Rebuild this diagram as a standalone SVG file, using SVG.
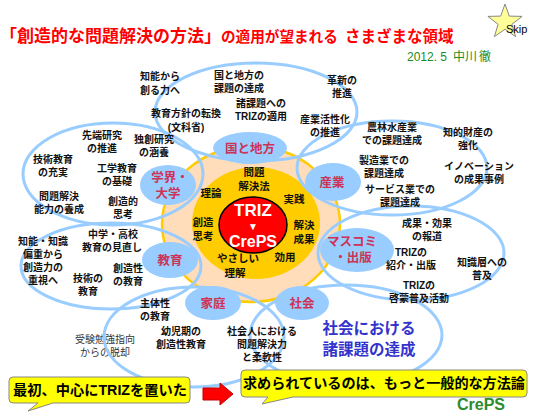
<svg xmlns="http://www.w3.org/2000/svg" width="543" height="418" viewBox="0 0 543 418">
<style>
.o{fill:none;stroke:#99CCFF;stroke-width:3}
.lb{fill:#99CCFF}
.jp{font-family:"Liberation Sans","Noto Sans CJK JP",sans-serif}
.lt{font-family:"Liberation Sans","Noto Sans CJK JP",sans-serif;font-size:12.5px;font-weight:bold;fill:#CC3355;text-anchor:middle}
.t{font-family:"Liberation Sans","Noto Sans CJK JP",sans-serif;font-size:10px;font-weight:bold;fill:#111;text-anchor:middle}
.c{font-family:"Liberation Sans","Noto Sans CJK JP",sans-serif;font-size:10.5px;font-weight:bold;fill:#111;text-anchor:middle}
.cb{font-family:"Liberation Sans","Noto Sans CJK JP",sans-serif;font-size:14px;font-weight:bold;fill:#000}
</style>
<rect width="543" height="418" fill="#FFFFFF"/>

<g id="title">
<text class="jp" y="42" font-weight="bold" fill="#FF0000"><tspan x="0" font-size="17">「創造的な問題解決の方法」</tspan><tspan font-size="14.6">の適用が望まれる</tspan><tspan x="345" font-size="15.5">さまざまな領域</tspan></text>
<text class="jp" y="61" font-size="12" fill="#228B22"><tspan x="407">2012. 5</tspan><tspan x="453">中川</tspan><tspan x="479">徹</tspan></text>
</g>

<g id="skip">
<polygon points="505,4 509.3,16.1 522.1,16.4 511.9,24.3 515.6,36.6 505,29.3 494.4,36.6 498.1,24.3 487.9,16.4 500.7,16.1" fill="#FFFF99" stroke="#888888" stroke-width="1"/>
<text x="506" y="33" font-family="Liberation Sans,Arial,sans-serif" font-size="11" fill="#000">Skip</text>
</g>

<g id="core">
<ellipse cx="251" cy="224" rx="89" ry="78" fill="#FFDDBB" stroke="#FFCC00" stroke-width="2.5"/>
<ellipse cx="256" cy="223" rx="64" ry="56" fill="#FFCC00"/>
</g>

<g id="c-text1"><text class="c"><tspan x="254" y="176">問題</tspan><tspan x="254" y="190">解決法</tspan></text></g>
<g id="c-text2"><text class="c" x="211" y="197">理論</text></g>
<g id="c-text3"><text class="c" x="294" y="203">実践</text></g>
<g id="c-text4"><text class="c"><tspan x="203" y="226">創造</tspan><tspan x="203" y="240">思考</tspan></text></g>
<g id="c-text5"><text class="c"><tspan x="304" y="229">解決</tspan><tspan x="304" y="243">成果</tspan></text></g>
<g id="c-text6"><text class="c"><tspan x="238" y="262">やさしい</tspan><tspan x="235" y="277">理解</tspan></text></g>
<g id="c-text7"><text class="c" x="285" y="261">効用</text></g>

<g id="triz">
<ellipse cx="253" cy="225" rx="34" ry="28" fill="#FF0000" stroke="#000" stroke-width="1.5"/>
<text x="253" y="216" font-family="Liberation Sans,Arial,sans-serif" font-size="17" font-weight="bold" fill="#FFF" text-anchor="middle">TRIZ</text>
<text x="253" y="229.5" font-family="Liberation Sans,Noto Sans CJK JP,sans-serif" font-size="10" fill="#FFF" text-anchor="middle">▼</text>
<text x="253" y="246.5" font-family="Liberation Sans,Arial,sans-serif" font-size="16" font-weight="bold" fill="#FFF" text-anchor="middle">CrePS</text>
</g>

<g id="t-juken"><text class="jp" font-size="10" fill="#333" text-anchor="middle"><tspan x="105" y="343">受験勉強指向</tspan><tspan x="105" y="356">からの脱却</tspan></text></g>

<g id="areas">
<ellipse class="o" cx="256" cy="112" rx="101" ry="49"/>
<ellipse class="o" cx="113" cy="174" rx="90" ry="51"/>
<ellipse class="o" cx="111" cy="266" rx="90" ry="43"/>
<ellipse class="o" cx="194" cy="337" rx="90" ry="50"/>
<ellipse class="o" cx="346" cy="335" rx="96" ry="50"/>
<ellipse class="o" cx="411" cy="253" rx="93" ry="47"/>
<ellipse class="o" cx="392" cy="168" rx="95" ry="47"/>
</g>

<g id="n-kuni"><ellipse class="lb" cx="250" cy="148" rx="37" ry="16"/><text class="lt" x="250" y="153">国と地方</text></g>
<g id="n-gakkai"><ellipse class="lb" cx="168" cy="185" rx="28" ry="20"/><text class="lt"><tspan x="170" y="182">学界・</tspan><tspan x="168" y="198">大学</tspan></text></g>
<g id="n-kyoiku"><ellipse class="lb" cx="170" cy="260" rx="28" ry="18"/><text class="lt" x="170" y="265">教育</text></g>
<g id="n-katei"><ellipse class="lb" cx="213" cy="303" rx="28" ry="17"/><text class="lt" x="213" y="308">家庭</text></g>
<g id="n-shakai"><ellipse class="lb" cx="302" cy="303" rx="27" ry="17"/><text class="lt" x="302" y="308">社会</text></g>
<g id="n-masukomi"><ellipse class="lb" cx="357" cy="250" rx="37" ry="22"/><text class="lt"><tspan x="352" y="246">マスコミ</tspan><tspan x="353" y="262">・出版</tspan></text></g>
<g id="n-sangyo"><ellipse class="lb" cx="333" cy="182" rx="28" ry="19"/><text class="lt" x="332" y="187">産業</text></g>

<g id="items">
<text class="t"><tspan x="160" y="80">知能から</tspan><tspan x="160" y="94">創る力へ</tspan></text>
<text class="t"><tspan x="239" y="79">国と地方の</tspan><tspan x="239" y="92">課題の達成</tspan></text>
<text class="t"><tspan x="261" y="107">諸課題への</tspan><tspan x="261" y="120">TRIZの適用</tspan></text>
<text class="t"><tspan x="342" y="84">革新の</tspan><tspan x="342" y="97">推進</tspan></text>
<text class="t"><tspan x="186" y="117">教育方針の転換</tspan><tspan x="186" y="131">(文科省)</tspan></text>
<text class="t"><tspan x="325" y="123">産業活性化</tspan><tspan x="325" y="136">の推進</tspan></text>

<text class="t"><tspan x="102" y="139">先端研究</tspan><tspan x="102" y="152">の推進</tspan></text>
<text class="t"><tspan x="154" y="143">独創研究</tspan><tspan x="154" y="156">の涵養</tspan></text>
<text class="t"><tspan x="53" y="163">技術教育</tspan><tspan x="53" y="176">の充実</tspan></text>
<text class="t"><tspan x="117" y="172">工学教育</tspan><tspan x="117" y="185">の基礎</tspan></text>
<text class="t"><tspan x="59" y="200">問題解決</tspan><tspan x="59" y="213">能力の養成</tspan></text>
<text class="t"><tspan x="123" y="205">創造的</tspan><tspan x="123" y="218">思考</tspan></text>

<text class="t"><tspan x="113" y="238">中学・高校</tspan><tspan x="112" y="251">教育の見直し</tspan></text>
<text class="t"><tspan x="43" y="245">知能・知識</tspan><tspan x="43" y="258">偏重から</tspan><tspan x="43" y="271">創造力の</tspan><tspan x="43" y="284">重視へ</tspan></text>
<text class="t"><tspan x="88" y="282">技術の</tspan><tspan x="88" y="295">教育</tspan></text>
<text class="t"><tspan x="128" y="272">創造性</tspan><tspan x="128" y="285">の教育</tspan></text>

<text class="t"><tspan x="155" y="307">主体性</tspan><tspan x="155" y="320">の教育</tspan></text>
<text class="t"><tspan x="181" y="335">幼児期の</tspan><tspan x="181" y="348">創造性教育</tspan></text>
<text class="t"><tspan x="262" y="335">社会人における</tspan><tspan x="262" y="348">問題解決力</tspan><tspan x="262" y="361">と柔軟性</tspan></text>

<text class="t"><tspan x="392" y="131">農林水産業</tspan><tspan x="392" y="144">での課題達成</tspan></text>
<text class="t"><tspan x="468" y="136">知的財産の</tspan><tspan x="468" y="149">強化</tspan></text>
<text class="t"><tspan x="384" y="164">製造業での</tspan><tspan x="384" y="177">課題達成</tspan></text>
<text class="t"><tspan x="479" y="170">イノベーション</tspan><tspan x="479" y="183">の成果事例</tspan></text>
<text class="t"><tspan x="400" y="193">サービス業での</tspan><tspan x="400" y="206">課題達成</tspan></text>

<text class="t"><tspan x="427" y="227">成果・効果</tspan><tspan x="427" y="240">の報道</tspan></text>
<text class="t"><tspan x="411" y="256">TRIZの</tspan><tspan x="411" y="269">紹介・出版</tspan></text>
<text class="t"><tspan x="482" y="266">知識層への</tspan><tspan x="482" y="279">普及</tspan></text>
<text class="t"><tspan x="419" y="289">TRIZの</tspan><tspan x="419" y="302">啓蒙普及活動</tspan></text>
</g>

<g id="shakai-goal"><text class="jp" font-size="15.5" font-weight="bold" fill="#3333CC" text-anchor="middle"><tspan x="369" y="334">社会における</tspan><tspan x="369" y="355">諸課題の達成</tspan></text></g>

<g id="callout-left">
<path d="M13,377 H186 Q190,377 190,381 V399 Q190,403 186,403 H53 L28,411 L38,403 H13 Q9,403 9,399 V381 Q9,377 13,377 Z" fill="#FFFF00" stroke="#888888" stroke-width="1"/>
<text class="cb" x="13" y="395" textLength="174" lengthAdjust="spacingAndGlyphs">最初、中心にTRIZを置いた</text>
</g>
<g id="arrow">
<path d="M203,388 H220 V383 L233,394 L220,405 V400 H203 Z" fill="#FF0000" stroke="#C00000" stroke-width="1"/>
</g>
<g id="callout-right">
<path d="M245,370 H523 Q527,370 527,374 V393 Q527,397 523,397 H293 L262,404 L268,397 H245 Q241,397 241,393 V374 Q241,370 245,370 Z" fill="#FFFF00" stroke="#888888" stroke-width="1"/>
<text class="cb" x="243" y="388" textLength="282" lengthAdjust="spacingAndGlyphs">求められているのは、もっと一般的な方法論</text>
</g>
<g id="creps"><text x="457" y="410" font-family="Liberation Sans,Arial,sans-serif" font-size="16" font-weight="bold" fill="#2E8B2E">CrePS</text></g>
</svg>
